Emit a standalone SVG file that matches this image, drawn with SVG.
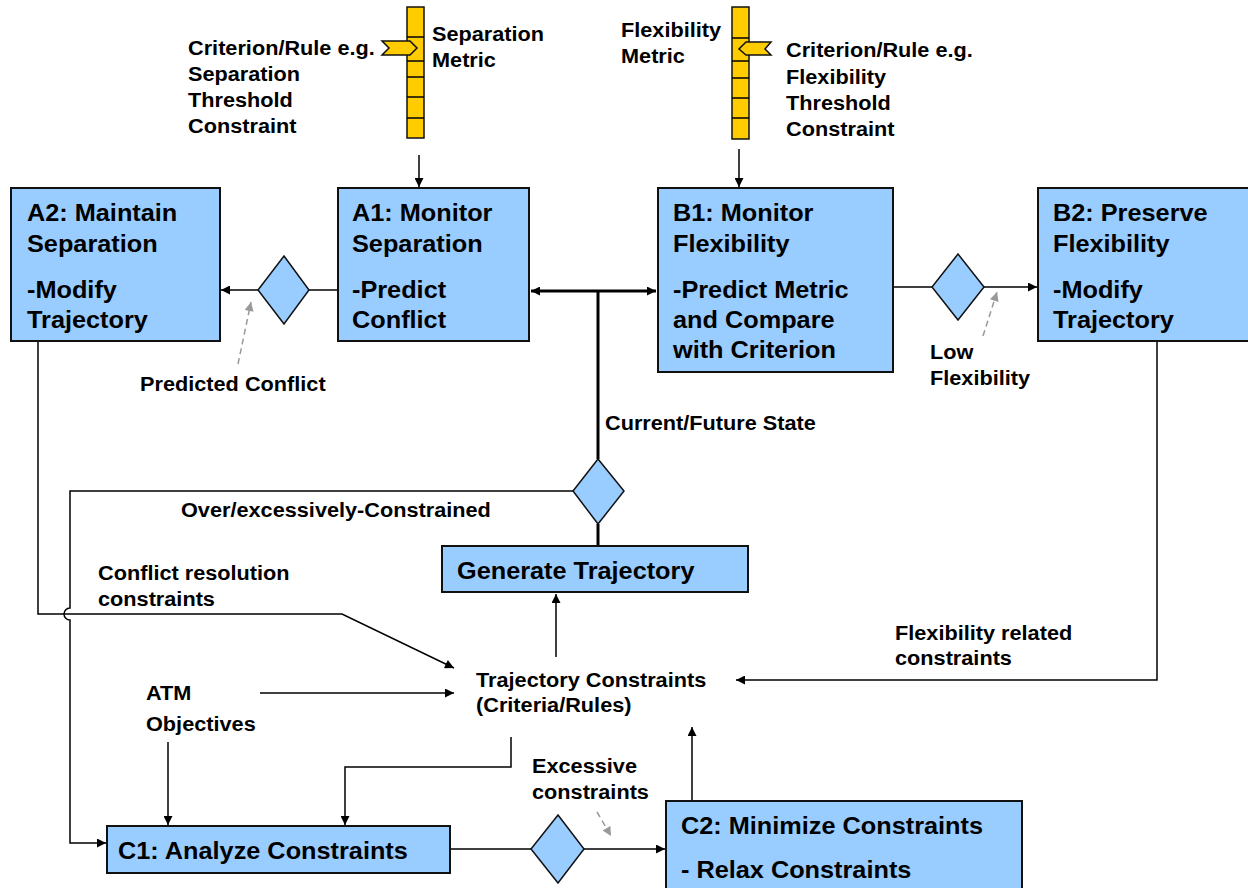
<svg xmlns="http://www.w3.org/2000/svg" width="1248" height="888" viewBox="0 0 1248 888">
<defs>
<marker id="ah" viewBox="0 0 10 10" refX="10" refY="5" markerWidth="10" markerHeight="9" markerUnits="userSpaceOnUse" orient="auto-start-reverse">
<path d="M0,0 L10,5 L0,10 z" fill="#000"/>
</marker>
<marker id="ahg" viewBox="0 0 10 10" refX="10" refY="5" markerWidth="10" markerHeight="9" markerUnits="userSpaceOnUse" orient="auto">
<path d="M0,0 L10,5 L0,10 z" fill="#999"/>
</marker>
<style>
.box{fill:#99CCFF;stroke:#111;stroke-width:2}
.dia{fill:#99CCFF;stroke:#111;stroke-width:1.5}
.bar{fill:#FFCC00;stroke:#111;stroke-width:1.5}
.t{font-family:"Liberation Sans",Arial,sans-serif;font-weight:bold;font-size:23px;fill:#000}
.s{font-family:"Liberation Sans",Arial,sans-serif;font-weight:bold;font-size:20px;fill:#000}
.c{fill:none;stroke:#000;stroke-width:1.5}
.k{fill:none;stroke:#000;stroke-width:3}
.g{fill:none;stroke:#999;stroke-width:1.5;stroke-dasharray:6,4}
</style>
</defs>

<g id="sep-metric">
<rect class="bar" x="407" y="7" width="17" height="131"/>
<path class="c" d="M407,37 H424 M407,61 H424 M407,77 H424 M407,97 H424 M407,118 H424"/>
<polygon class="bar" points="382,41 410,41 417,48 410,55 382,55 389,48"/>
<text class="s" transform="translate(188,55) scale(1.085,1)">Criterion/Rule e.g.</text>
<text class="s" transform="translate(188,81) scale(1.085,1)">Separation</text>
<text class="s" transform="translate(188,107) scale(1.085,1)">Threshold</text>
<text class="s" transform="translate(188,133) scale(1.085,1)">Constraint</text>
<text class="s" transform="translate(432,41) scale(1.085,1)">Separation</text>
<text class="s" transform="translate(432,67) scale(1.085,1)">Metric</text>
</g>

<g id="flex-metric">
<rect class="bar" x="732" y="7" width="17" height="132"/>
<path class="c" d="M732,38 H749 M732,61 H749 M732,78 H749 M732,98 H749 M732,118 H749"/>
<polygon class="bar" points="771,42 746,42 739,49 746,55 771,55 765,49"/>
<text class="s" transform="translate(621,37) scale(1.085,1)">Flexibility</text>
<text class="s" transform="translate(621,63) scale(1.085,1)">Metric</text>
<text class="s" transform="translate(786,57) scale(1.085,1)">Criterion/Rule e.g.</text>
<text class="s" transform="translate(786,84) scale(1.085,1)">Flexibility</text>
<text class="s" transform="translate(786,110) scale(1.085,1)">Threshold</text>
<text class="s" transform="translate(786,136) scale(1.085,1)">Constraint</text>
</g>

<g id="connectors">
<line class="c" x1="419" y1="155" x2="419" y2="187" marker-end="url(#ah)"/>
<line class="c" x1="739" y1="149" x2="739" y2="187" marker-end="url(#ah)"/>
<line class="c" x1="338" y1="290" x2="309" y2="290"/>
<line class="c" x1="258" y1="290" x2="221" y2="290" marker-end="url(#ah)"/>
<line class="k" x1="531" y1="291" x2="656" y2="291" stroke-width="2" marker-start="url(#ah)" marker-end="url(#ah)"/>
<line class="k" x1="598" y1="291" x2="598" y2="459"/>
<line class="k" x1="598" y1="524" x2="598" y2="546"/>
<line class="c" x1="893" y1="287" x2="932" y2="287"/>
<line class="c" x1="984" y1="287" x2="1037" y2="287" marker-end="url(#ah)"/>
<path class="c" d="M573,491 H70 V608 A6,6 0 0 0 70,620 V843 H106" marker-end="url(#ah)"/>
<path class="c" d="M38,341 V614 H342 L454,668" marker-end="url(#ah)"/>
<line class="c" x1="260" y1="693" x2="454" y2="693" marker-end="url(#ah)"/>
<line class="c" x1="168" y1="742" x2="168" y2="825" marker-end="url(#ah)"/>
<path class="c" d="M511,737 V767 H345 V825" marker-end="url(#ah)"/>
<line class="c" x1="556" y1="657" x2="556" y2="594" marker-end="url(#ah)"/>
<path class="c" d="M1157,341 V680 H736" marker-end="url(#ah)"/>
<line class="c" x1="450" y1="849" x2="531" y2="849"/>
<line class="c" x1="584" y1="849" x2="665" y2="849" marker-end="url(#ah)"/>
<line class="c" x1="692" y1="801" x2="692" y2="727" marker-end="url(#ah)"/>
<line class="g" x1="238" y1="364" x2="251" y2="302" marker-end="url(#ahg)"/>
<line class="g" x1="983" y1="336" x2="997" y2="292" marker-end="url(#ahg)"/>
<line class="g" x1="597" y1="812" x2="611" y2="836" marker-end="url(#ahg)"/>
</g>

<g id="A2">
<rect class="box" x="11" y="188" width="209" height="153"/>
<text class="t" transform="translate(27,221) scale(1.1,1)">A2: Maintain</text>
<text class="t" transform="translate(27,252) scale(1.1,1)">Separation</text>
<text class="t" transform="translate(27,298) scale(1.1,1)">-Modify</text>
<text class="t" transform="translate(27,328) scale(1.1,1)">Trajectory</text>
</g>

<g id="A1">
<rect class="box" x="338" y="188" width="191" height="153"/>
<text class="t" transform="translate(352,221) scale(1.1,1)">A1: Monitor</text>
<text class="t" transform="translate(352,252) scale(1.1,1)">Separation</text>
<text class="t" transform="translate(352,298) scale(1.1,1)">-Predict</text>
<text class="t" transform="translate(352,328) scale(1.1,1)">Conflict</text>
</g>

<g id="B1">
<rect class="box" x="658" y="188" width="235" height="184"/>
<text class="t" transform="translate(673,221) scale(1.1,1)">B1: Monitor</text>
<text class="t" transform="translate(673,252) scale(1.1,1)">Flexibility</text>
<text class="t" transform="translate(673,298) scale(1.1,1)">-Predict Metric</text>
<text class="t" transform="translate(673,328) scale(1.1,1)">and Compare</text>
<text class="t" transform="translate(673,358) scale(1.1,1)">with Criterion</text>
</g>

<g id="B2">
<rect class="box" x="1038" y="188" width="215" height="153"/>
<text class="t" transform="translate(1053,221) scale(1.1,1)">B2: Preserve</text>
<text class="t" transform="translate(1053,252) scale(1.1,1)">Flexibility</text>
<text class="t" transform="translate(1053,298) scale(1.1,1)">-Modify</text>
<text class="t" transform="translate(1053,328) scale(1.1,1)">Trajectory</text>
</g>

<g id="dec-sep"><polygon class="dia" points="284,256 309,290 284,324 258,290"/></g>
<g id="dec-flex"><polygon class="dia" points="958,254 984,287 958,320 932,287"/></g>
<g id="dec-state"><polygon class="dia" points="598,459 624,491 598,524 573,491"/></g>
<g id="dec-constr"><polygon class="dia" points="558,815 584,849 558,883 531,849"/></g>

<g id="generate">
<rect class="box" x="442" y="546" width="306" height="46"/>
<text class="t" transform="translate(457,579) scale(1.1,1)">Generate Trajectory</text>
</g>

<g id="C1">
<rect class="box" x="107" y="826" width="343" height="47"/>
<text class="t" transform="translate(118,859) scale(1.1,1)">C1: Analyze Constraints</text>
</g>

<g id="C2">
<rect class="box" x="666" y="801" width="356" height="92"/>
<text class="t" transform="translate(681,834) scale(1.1,1)">C2: Minimize Constraints</text>
<text class="t" transform="translate(681,878) scale(1.1,1)">- Relax Constraints</text>
</g>

<g id="labels">
<text class="s" transform="translate(140,391) scale(1.085,1)">Predicted Conflict</text>
<text class="s" transform="translate(930,359) scale(1.085,1)">Low</text>
<text class="s" transform="translate(930,385) scale(1.085,1)">Flexibility</text>
<text class="s" transform="translate(605,430) scale(1.085,1)">Current/Future State</text>
<text class="s" transform="translate(181,517) scale(1.085,1)">Over/excessively-Constrained</text>
<text class="s" transform="translate(98,580) scale(1.085,1)">Conflict resolution</text>
<text class="s" transform="translate(98,606) scale(1.085,1)">constraints</text>
<text class="s" transform="translate(476,687) scale(1.085,1)">Trajectory Constraints</text>
<text class="s" transform="translate(476,712) scale(1.085,1)">(Criteria/Rules)</text>
<text class="s" transform="translate(146,700) scale(1.085,1)">ATM</text>
<text class="s" transform="translate(146,731) scale(1.085,1)">Objectives</text>
<text class="s" transform="translate(532,773) scale(1.085,1)">Excessive</text>
<text class="s" transform="translate(532,799) scale(1.085,1)">constraints</text>
<text class="s" transform="translate(895,640) scale(1.085,1)">Flexibility related</text>
<text class="s" transform="translate(895,665) scale(1.085,1)">constraints</text>
</g>
</svg>
